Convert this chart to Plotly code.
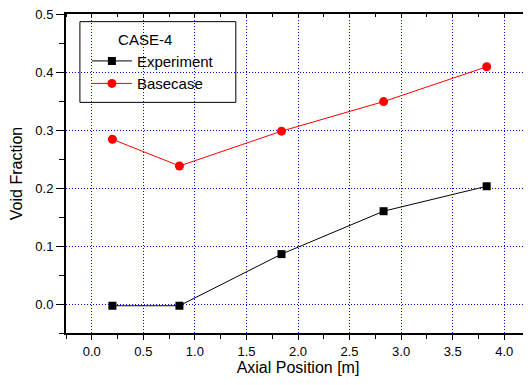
import plotly.graph_objects as go

axial_position = [0.2, 0.85, 1.84, 2.83, 3.83]
experiment = [-0.003, -0.003, 0.086, 0.160, 0.203]
basecase = [0.284, 0.238, 0.298, 0.349, 0.409]

x_ticks = [0.0, 0.5, 1.0, 1.5, 2.0, 2.5, 3.0, 3.5, 4.0]
y_ticks = [0.0, 0.1, 0.2, 0.3, 0.4, 0.5]

font = dict(family="Liberation Sans, Arial, sans-serif", color="black")

fig = go.Figure()
fig.add_trace(go.Scatter(
    x=axial_position, y=experiment, name="Experiment", mode="lines+markers",
    line=dict(color="black", width=1),
    marker=dict(symbol="square", size=8, color="black"),
))
fig.add_trace(go.Scatter(
    x=axial_position, y=basecase, name="Basecase", mode="lines+markers",
    line=dict(color="red", width=1),
    marker=dict(symbol="circle", size=9, color="red"),
))

grid = dict(showgrid=True, gridcolor="blue", griddash="1px,2px", gridwidth=1)

# page body has an 8px default margin: figure is sized/offset to compensate
fig.update_layout(
    width=523, height=377,
    margin=dict(l=58, r=1, t=6, b=52, autoexpand=False),
    paper_bgcolor="white", plot_bgcolor="white",
    font=dict(size=13, **font),
    showlegend=True,
    legend=dict(
        title=dict(text="&nbsp;&nbsp;&nbsp;&nbsp;&nbsp;&nbsp;&nbsp;CASE-4", font=dict(size=15, **font)),
        x=0.045, y=0.965, xanchor="left", yanchor="top",
        bgcolor="rgba(0,0,0,0)", borderwidth=0, itemwidth=40,
        font=dict(size=15, **font), tracegroupgap=0,
    ),
    shapes=[dict(
        type="rect", xref="paper", yref="paper",
        x0=0.030, x1=0.366, y0=0.723, y1=0.976,
        line=dict(color="black", width=1), fillcolor="white", layer="below",
    )],
    xaxis=dict(
        range=[-0.25, 4.25], tickvals=x_ticks, ticktext=[f"{v:.1f}" for v in x_ticks],
        ticks="outside", ticklen=5, tickcolor="black", tickwidth=1,
        minor=dict(dtick=0.25, tick0=0, ticks="outside", ticklen=4, tickcolor="black", showgrid=False),
        showline=True, linecolor="black", linewidth=2, zeroline=False, automargin=False,
        title=dict(text="Axial Position [m]", font=dict(size=16, **font), standoff=1),
        tickfont=dict(size=13, **font), ticklabeloverflow="allow",
        **grid,
    ),
    yaxis=dict(
        range=[-0.05, 0.5], tickvals=y_ticks, ticktext=[f"{v:.1f}" for v in y_ticks],
        ticks="outside", ticklen=8, tickcolor="black", tickwidth=1,
        minor=dict(dtick=0.05, tick0=0, ticks="outside", ticklen=5, tickcolor="black", showgrid=False),
        showline=True, linecolor="black", linewidth=2, zeroline=False, automargin=False,
        title=dict(text="Void Fraction", font=dict(size=16, **font), standoff=15),
        tickfont=dict(size=13, **font), ticklabeloverflow="allow",
        **grid,
    ),
    xaxis2=dict(
        range=[-0.25, 4.25], overlaying="x", side="top", tickvals=x_ticks,
        showticklabels=False, ticks="",
        minor=dict(dtick=0.25, tick0=0, ticks="inside", ticklen=3, tickcolor="black"),
        showline=True, linecolor="black", linewidth=1.5, showgrid=False, zeroline=False, automargin=False,
    ),
    yaxis2=dict(
        range=[-0.05, 0.5], overlaying="y", side="right", tickvals=y_ticks,
        showticklabels=False, ticks="",
        minor=dict(dtick=0.05, tick0=0, ticks="inside", ticklen=3, tickcolor="black"),
        showline=True, linecolor="black", linewidth=1.5, showgrid=False, zeroline=False, automargin=False,
    ),
)
fig.add_trace(go.Scatter(x=[None], y=[None], xaxis="x2", yaxis="y2", showlegend=False, hoverinfo="skip"))

fig.write_html("out.html")
